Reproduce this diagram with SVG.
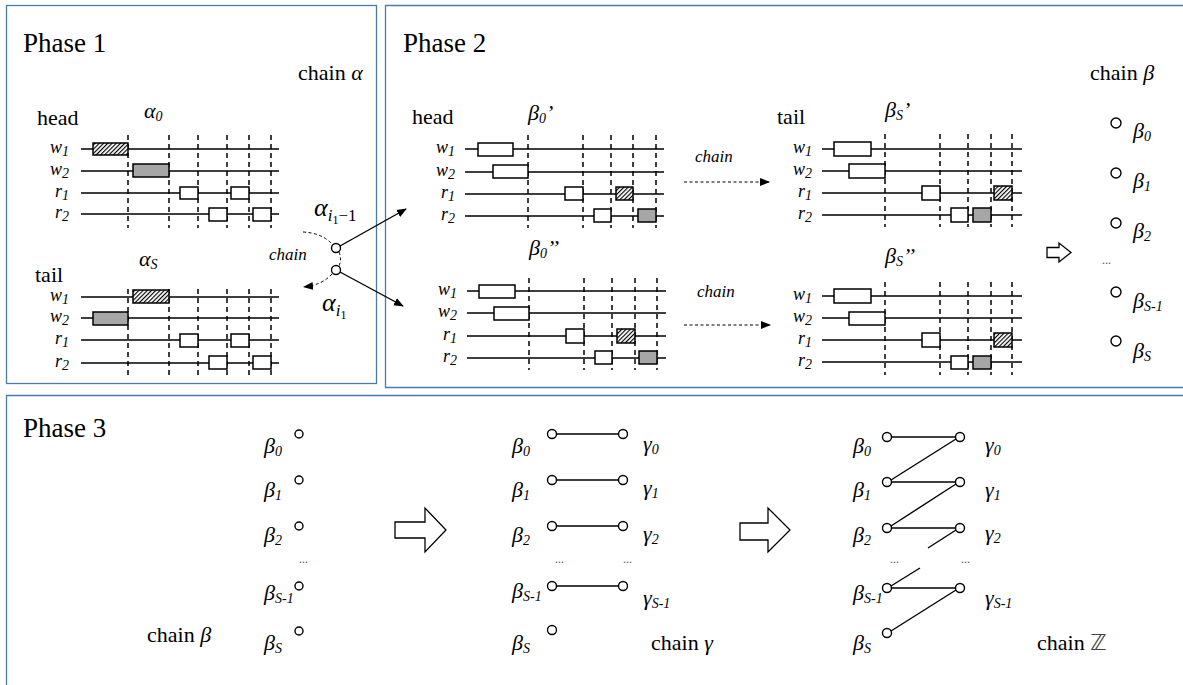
<svg xmlns="http://www.w3.org/2000/svg" width="1183" height="685" viewBox="0 0 1183 685">
<defs>
<pattern id="hatch" width="3" height="3" patternUnits="userSpaceOnUse" patternTransform="rotate(45)">
<rect width="3" height="3" fill="#fff"/>
<line x1="0.5" y1="0" x2="0.5" y2="3" stroke="#000" stroke-width="1.3"/>
</pattern>
<marker id="ah" viewBox="0 0 10 10" refX="9" refY="5" markerWidth="10" markerHeight="10" markerUnits="userSpaceOnUse" orient="auto">
<path d="M0,1 L10,5 L0,9 Z" fill="#000"/>
</marker>
</defs>
<style>
.panel{fill:none;stroke:#4a7ab0;stroke-width:1.3}
.ttl{font-family:"Liberation Serif","Times New Roman",serif;font-size:27px;fill:#000}
.lbl{font-family:"Liberation Serif","Times New Roman",serif;font-size:22px;fill:#000}
.it{font-family:"Liberation Serif","Times New Roman",serif;font-style:italic;fill:#000}
.row{font-family:"Liberation Serif","Times New Roman",serif;font-style:italic;font-size:18px;fill:#000}
.gk{font-family:"Liberation Serif","Times New Roman",serif;font-style:italic;font-size:22px;fill:#000}
.mth{font-family:"Liberation Serif","Times New Roman",serif;font-style:italic;font-size:26px;fill:#000}
.sub{font-size:14px}
.ln{stroke:#000;stroke-width:1.5;fill:none}
.dl{stroke:#000;stroke-width:1.5;stroke-dasharray:5 4;fill:none}
.bw{fill:#fff;stroke:#000;stroke-width:1.5}
.bg{fill:#a6a6a6;stroke:#000;stroke-width:1.5}
.bh{fill:url(#hatch);stroke:#000;stroke-width:1.5}
.nd{fill:#fff;stroke:#000;stroke-width:1.4}
.cn{stroke:#000;stroke-width:1.4;fill:none}
.dc{stroke:#000;stroke-width:1;stroke-dasharray:3 2.5;fill:none}
.ha{fill:#fff;stroke:#000;stroke-width:1.3}
.dots{font-family:"Liberation Serif","Times New Roman",serif;font-size:12px;fill:#555}
</style>
<rect width="1183" height="685" fill="#fff"/>

<!-- Panels -->
<g id="phase1">
<rect class="panel" x="6.5" y="5.5" width="370" height="378"/>
<text class="ttl" x="23" y="52">Phase 1</text>
<text class="lbl" x="298" y="80">chain <tspan font-style="italic">α</tspan></text>
</g>
<g id="phase2">
<path class="panel" d="M1183,5.5 H385.5 V387.5 H1183"/>
<text class="ttl" x="403" y="52">Phase 2</text>
<text class="lbl" x="1090" y="80">chain <tspan font-style="italic">β</tspan></text>
</g>
<g id="phase3">
<path class="panel" d="M6.5,685 V395.5 H1183"/>
<text class="ttl" x="23" y="437">Phase 3</text>
</g>

<!-- Phase 1 head block alpha_0 -->
<g id="alpha0">
<text class="lbl" x="37" y="125">head</text>
<text class="gk" x="144" y="118">α<tspan class="sub" dy="3">0</tspan></text>
<text class="row" x="69" y="153" text-anchor="end">w<tspan class="sub" dy="3">1</tspan></text>
<text class="row" x="69" y="175" text-anchor="end">w<tspan class="sub" dy="3">2</tspan></text>
<text class="row" x="69" y="197" text-anchor="end">r<tspan class="sub" dy="3">1</tspan></text>
<text class="row" x="69" y="218" text-anchor="end">r<tspan class="sub" dy="3">2</tspan></text>
<path class="ln" d="M81,149H279M81,171H279M81,193H279M81,214H279"/>
<path class="dl" d="M128,135V228M169,135V228M198,135V228M227,135V228M249,135V228M271,135V228"/>
<rect class="bh" x="93" y="143" width="35" height="12"/>
<rect class="bg" x="133" y="164" width="36" height="13"/>
<rect class="bw" x="180" y="187" width="18" height="12"/>
<rect class="bw" x="231" y="187" width="18" height="12"/>
<rect class="bw" x="209" y="208" width="18" height="13"/>
<rect class="bw" x="253" y="208" width="18" height="13"/>
</g>

<!-- Phase 1 tail block alpha_S -->
<g id="alphaS">
<text class="lbl" x="35" y="282">tail</text>
<text class="gk" x="139" y="266">α<tspan class="sub" dy="3">S</tspan></text>
<text class="row" x="69" y="301" text-anchor="end">w<tspan class="sub" dy="3">1</tspan></text>
<text class="row" x="69" y="322" text-anchor="end">w<tspan class="sub" dy="3">2</tspan></text>
<text class="row" x="69" y="344" text-anchor="end">r<tspan class="sub" dy="3">1</tspan></text>
<text class="row" x="69" y="367" text-anchor="end">r<tspan class="sub" dy="3">2</tspan></text>
<path class="ln" d="M81,297H279M81,318H279M81,340H279M81,363H279"/>
<path class="dl" d="M128,289V375M169,289V375M198,289V375M227,289V375M249,289V375M271,289V375"/>
<rect class="bh" x="133" y="290" width="36" height="13"/>
<rect class="bg" x="93" y="312" width="35" height="13"/>
<rect class="bw" x="180" y="334" width="18" height="13"/>
<rect class="bw" x="231" y="334" width="18" height="13"/>
<rect class="bw" x="209" y="356" width="18" height="13"/>
<rect class="bw" x="253" y="356" width="18" height="13"/>
</g>

<!-- chain alpha nodes -->
<g id="alpha-i1-1">
<circle class="nd" cx="336" cy="248" r="4.5"/>
<text class="mth" x="314" y="216">α<tspan font-size="17" dy="5">i</tspan><tspan font-size="12" dy="3" font-style="normal">1</tspan><tspan font-size="17" dy="-3" font-style="normal">−1</tspan></text>
</g>
<g id="alpha-i1">
<circle class="nd" cx="336" cy="270" r="4.5"/>
<text class="mth" x="322" y="311">α<tspan font-size="17" dy="5">i</tspan><tspan font-size="12" dy="3" font-style="normal">1</tspan></text>
</g>

<!-- Phase 2 blocks -->
<g id="beta0p">
<text class="lbl" x="412" y="124">head</text>
<text class="gk" x="528" y="120">β<tspan class="sub" dy="3">0</tspan><tspan dy="-3">’</tspan></text>
<text class="row" x="455" y="153" text-anchor="end">w<tspan class="sub" dy="3">1</tspan></text>
<text class="row" x="455" y="176" text-anchor="end">w<tspan class="sub" dy="3">2</tspan></text>
<text class="row" x="455" y="198" text-anchor="end">r<tspan class="sub" dy="3">1</tspan></text>
<text class="row" x="455" y="220" text-anchor="end">r<tspan class="sub" dy="3">2</tspan></text>
<path class="ln" d="M465,149H664M465,172H664M465,194H664M465,216H664"/>
<path class="dl" d="M528,135V228M583,135V228M611,135V228M633,135V228M656,135V228"/>
<rect class="bw" x="478" y="143" width="35" height="13"/>
<rect class="bw" x="493" y="165" width="35" height="13"/>
<rect class="bw" x="565" y="187" width="18" height="13"/>
<rect class="bh" x="616" y="187" width="17" height="13"/>
<rect class="bw" x="594" y="209" width="17" height="13"/>
<rect class="bg" x="638" y="209" width="18" height="13"/>
</g>

<g id="beta0pp">
<text class="gk" x="529" y="255">β<tspan class="sub" dy="3">0</tspan><tspan dy="-3">’’</tspan></text>
<text class="row" x="457" y="295" text-anchor="end">w<tspan class="sub" dy="3">1</tspan></text>
<text class="row" x="457" y="317" text-anchor="end">w<tspan class="sub" dy="3">2</tspan></text>
<text class="row" x="457" y="340" text-anchor="end">r<tspan class="sub" dy="3">1</tspan></text>
<text class="row" x="457" y="362" text-anchor="end">r<tspan class="sub" dy="3">2</tspan></text>
<path class="ln" d="M467,291H666M467,313H666M467,336H666M467,358H666"/>
<path class="dl" d="M529,278V370M584,278V370M612,278V370M635,278V370M657,278V370"/>
<rect class="bw" x="479" y="285" width="36" height="13"/>
<rect class="bw" x="494" y="307" width="35" height="13"/>
<rect class="bw" x="566" y="329" width="18" height="14"/>
<rect class="bh" x="617" y="329" width="18" height="14"/>
<rect class="bw" x="595" y="351" width="17" height="13"/>
<rect class="bg" x="639" y="351" width="18" height="13"/>
</g>

<g id="betaSp">
<text class="lbl" x="777" y="124">tail</text>
<text class="gk" x="885" y="117">β<tspan class="sub" dy="3">S</tspan><tspan dy="-3">’</tspan></text>
<text class="row" x="812" y="153" text-anchor="end">w<tspan class="sub" dy="3">1</tspan></text>
<text class="row" x="812" y="175" text-anchor="end">w<tspan class="sub" dy="3">2</tspan></text>
<text class="row" x="812" y="197" text-anchor="end">r<tspan class="sub" dy="3">1</tspan></text>
<text class="row" x="812" y="219" text-anchor="end">r<tspan class="sub" dy="3">2</tspan></text>
<path class="ln" d="M822,149H1022M822,171H1022M822,193H1022M822,215H1022"/>
<path class="dl" d="M885,134V227M940,134V227M968,134V227M991,134V227M1012,134V227"/>
<rect class="bw" x="834" y="142" width="37" height="14"/>
<rect class="bw" x="849" y="164" width="36" height="14"/>
<rect class="bw" x="922" y="186" width="18" height="14"/>
<rect class="bh" x="994" y="186" width="18" height="14"/>
<rect class="bw" x="951" y="208" width="17" height="14"/>
<rect class="bg" x="973" y="208" width="18" height="14"/>
</g>

<g id="betaSpp">
<text class="gk" x="885" y="263">β<tspan class="sub" dy="3">S</tspan><tspan dy="-3">’’</tspan></text>
<text class="row" x="812" y="300" text-anchor="end">w<tspan class="sub" dy="3">1</tspan></text>
<text class="row" x="812" y="322" text-anchor="end">w<tspan class="sub" dy="3">2</tspan></text>
<text class="row" x="812" y="344" text-anchor="end">r<tspan class="sub" dy="3">1</tspan></text>
<text class="row" x="812" y="366" text-anchor="end">r<tspan class="sub" dy="3">2</tspan></text>
<path class="ln" d="M822,296H1022M822,318H1022M822,340H1022M822,362H1022"/>
<path class="dl" d="M885,282V375M940,282V375M968,282V375M991,282V375M1012,282V375"/>
<rect class="bw" x="834" y="289" width="37" height="14"/>
<rect class="bw" x="849" y="312" width="36" height="13"/>
<rect class="bw" x="922" y="333" width="18" height="14"/>
<rect class="bh" x="994" y="333" width="18" height="14"/>
<rect class="bw" x="951" y="356" width="17" height="13"/>
<rect class="bg" x="973" y="356" width="18" height="13"/>
</g>

<!-- Chain beta (Phase 2 result) -->
<g id="chain-beta-p2">
<circle class="nd" cx="1116" cy="123" r="5"/>
<circle class="nd" cx="1116" cy="173" r="5"/>
<circle class="nd" cx="1116" cy="223" r="5"/>
<circle class="nd" cx="1116" cy="292" r="5"/>
<circle class="nd" cx="1116" cy="341" r="5"/>
<text class="gk" x="1133" y="138">β<tspan class="sub" dy="3">0</tspan></text>
<text class="gk" x="1133" y="188">β<tspan class="sub" dy="3">1</tspan></text>
<text class="gk" x="1133" y="238">β<tspan class="sub" dy="3">2</tspan></text>
<text class="dots" x="1102" y="264">...</text>
<text class="gk" x="1133" y="308">β<tspan class="sub" dy="3">S-1</tspan></text>
<text class="gk" x="1133" y="358">β<tspan class="sub" dy="3">S</tspan></text>
</g>

<!-- Phase 3 column 1 -->
<g id="p3-col1">
<text class="lbl" x="147" y="642">chain <tspan font-style="italic">β</tspan></text>
<text class="gk" x="264" y="453">β<tspan class="sub" dy="3">0</tspan></text>
<text class="gk" x="264" y="497">β<tspan class="sub" dy="3">1</tspan></text>
<text class="gk" x="264" y="542">β<tspan class="sub" dy="3">2</tspan></text>
<text class="gk" x="264" y="600">β<tspan class="sub" dy="3">S-1</tspan></text>
<text class="gk" x="264" y="650">β<tspan class="sub" dy="3">S</tspan></text>
<text class="dots" x="299" y="563">...</text>
<circle class="nd" cx="299" cy="434" r="4"/>
<circle class="nd" cx="299" cy="480" r="4"/>
<circle class="nd" cx="299" cy="526" r="4"/>
<circle class="nd" cx="299" cy="586" r="4"/>
<circle class="nd" cx="299" cy="631" r="4"/>
</g>

<!-- Phase 3 column 2 -->
<g id="p3-col2">
<text class="gk" x="512" y="453">β<tspan class="sub" dy="3">0</tspan></text>
<text class="gk" x="512" y="497">β<tspan class="sub" dy="3">1</tspan></text>
<text class="gk" x="512" y="542">β<tspan class="sub" dy="3">2</tspan></text>
<text class="gk" x="512" y="598">β<tspan class="sub" dy="3">S-1</tspan></text>
<text class="gk" x="512" y="650">β<tspan class="sub" dy="3">S</tspan></text>
<text class="gk" x="643" y="451">γ<tspan class="sub" dy="3">0</tspan></text>
<text class="gk" x="643" y="495">γ<tspan class="sub" dy="3">1</tspan></text>
<text class="gk" x="643" y="541">γ<tspan class="sub" dy="3">2</tspan></text>
<text class="gk" x="643" y="605">γ<tspan class="sub" dy="3">S-1</tspan></text>
<text class="dots" x="555" y="563">...</text>
<text class="dots" x="623" y="563">...</text>
<text class="lbl" x="651" y="650">chain <tspan font-style="italic">γ</tspan></text>
</g>

<!-- Phase 3 column 3 -->
<g id="p3-col3">
<text class="gk" x="853" y="453">β<tspan class="sub" dy="3">0</tspan></text>
<text class="gk" x="853" y="497">β<tspan class="sub" dy="3">1</tspan></text>
<text class="gk" x="853" y="542">β<tspan class="sub" dy="3">2</tspan></text>
<text class="gk" x="853" y="600">β<tspan class="sub" dy="3">S-1</tspan></text>
<text class="gk" x="853" y="650">β<tspan class="sub" dy="3">S</tspan></text>
<text class="gk" x="985" y="452">γ<tspan class="sub" dy="3">0</tspan></text>
<text class="gk" x="985" y="497">γ<tspan class="sub" dy="3">1</tspan></text>
<text class="gk" x="985" y="540">γ<tspan class="sub" dy="3">2</tspan></text>
<text class="gk" x="985" y="605">γ<tspan class="sub" dy="3">S-1</tspan></text>
<text class="dots" x="890" y="563">...</text>
<text class="dots" x="961" y="563">...</text>
<text class="lbl" x="1037" y="650">chain <tspan font-family="'DejaVu Sans',sans-serif" fill="#444">ℤ</tspan></text>
</g>

<!-- Hollow arrows -->
<g id="harrow1"><path class="ha" d="M1047,247.5H1059V243L1071,252.5L1059,262V257.5H1047Z"/></g>
<g id="harrow2"><path class="ha" d="M395,522H425V508L446,530L425,552V538H395Z"/></g>
<g id="harrow3"><path class="ha" d="M740,523H768V508L790,530L768,552V540H740Z"/></g>

<!-- Connectors -->
<g id="connectors">
<path class="dc" d="M303,232 Q322,233 332,244"/>
<path class="dc" d="M339,252 Q342,259 339,266"/>
<path class="dc" d="M332,274 Q322,285 304,287" marker-end="url(#ah)"/>
<line class="cn" x1="340" y1="246" x2="406" y2="209" stroke-width="1" marker-end="url(#ah)"/>
<line class="cn" x1="340" y1="272" x2="403" y2="306" stroke-width="1" marker-end="url(#ah)"/>
<text class="it" font-size="17" x="269" y="260">chain</text>
<text class="it" font-size="17" x="695" y="162">chain</text>
<path class="dc" d="M684,182H769" marker-end="url(#ah)"/>
<text class="it" font-size="17" x="697" y="297">chain</text>
<path class="dc" d="M684,325H770" marker-end="url(#ah)"/>

<line class="cn" x1="556" y1="434" x2="619" y2="434"/>
<line class="cn" x1="556" y1="480" x2="619" y2="480"/>
<line class="cn" x1="556" y1="526" x2="619" y2="526"/>
<line class="cn" x1="556" y1="586" x2="619" y2="586"/>

<line class="cn" x1="891" y1="437" x2="956" y2="437"/>
<line class="cn" x1="891" y1="482" x2="956" y2="482"/>
<line class="cn" x1="891" y1="528" x2="956" y2="528"/>
<line class="cn" x1="891" y1="588" x2="956" y2="588"/>
<line class="cn" x1="956" y1="439" x2="891" y2="480"/>
<line class="cn" x1="956" y1="484" x2="891" y2="526"/>
<line class="cn" x1="956" y1="530" x2="928" y2="548"/>
<line class="cn" x1="920" y1="568" x2="891" y2="586"/>
<line class="cn" x1="956" y1="590" x2="891" y2="631"/>
</g>
<!-- Phase 3 nodes (circles drawn over connectors) -->
<g id="p2-nodes">
<circle class="nd" cx="552" cy="434" r="4.5"/>
<circle class="nd" cx="552" cy="480" r="4.5"/>
<circle class="nd" cx="552" cy="526" r="4.5"/>
<circle class="nd" cx="552" cy="586" r="4.5"/>
<circle class="nd" cx="552" cy="630" r="4.5"/>
<circle class="nd" cx="623" cy="434" r="4.5"/>
<circle class="nd" cx="623" cy="480" r="4.5"/>
<circle class="nd" cx="623" cy="526" r="4.5"/>
<circle class="nd" cx="623" cy="586" r="4.5"/>
</g>
<g id="p3-nodes">
<circle class="nd" cx="887" cy="437" r="4.5"/>
<circle class="nd" cx="887" cy="482" r="4.5"/>
<circle class="nd" cx="887" cy="528" r="4.5"/>
<circle class="nd" cx="887" cy="588" r="4.5"/>
<circle class="nd" cx="887" cy="633" r="4.5"/>
<circle class="nd" cx="960" cy="437" r="4.5"/>
<circle class="nd" cx="960" cy="482" r="4.5"/>
<circle class="nd" cx="960" cy="528" r="4.5"/>
<circle class="nd" cx="960" cy="588" r="4.5"/>
</g>
</svg>
